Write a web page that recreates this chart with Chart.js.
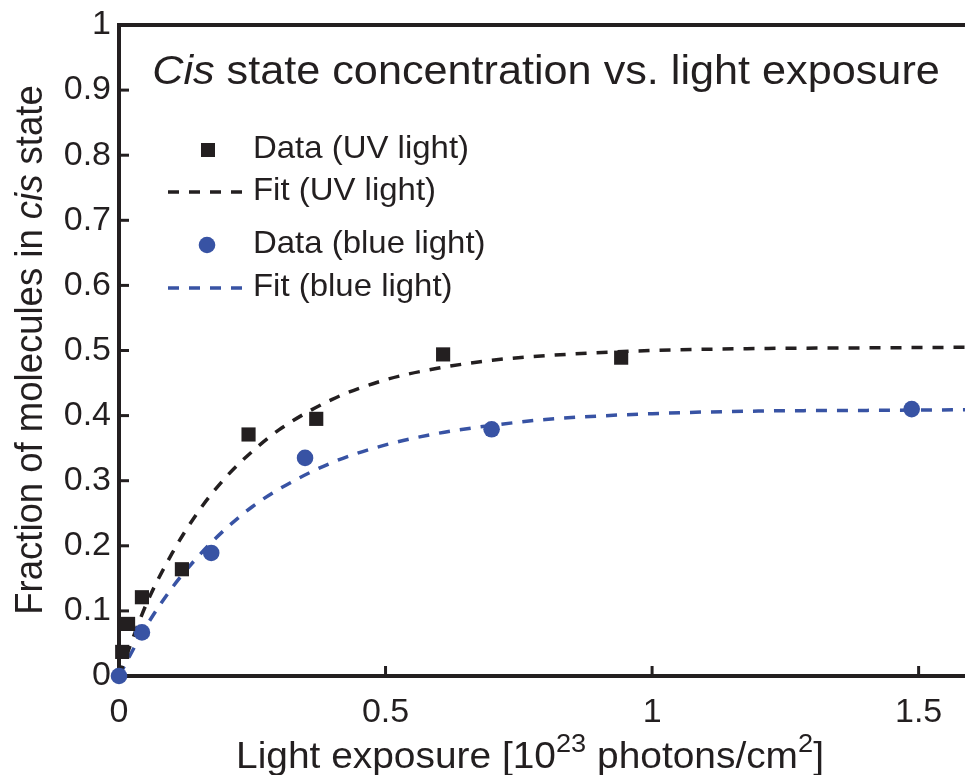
<!DOCTYPE html>
<html>
<head>
<meta charset="utf-8">
<script src="https://cdn.jsdelivr.net/npm/chart.js@4.4.1/dist/chart.umd.min.js"></script>
<style>
  html, body { margin: 0; padding: 0; background: #fff; }
  #wrap { width: 965px; height: 775px; }
</style>
</head>
<body>
<div id="wrap"><canvas id="cisChart" width="965" height="775"></canvas></div>
<script>
// measured fraction in cis state
const uvX = [0.006, 0.017, 0.043, 0.118, 0.243, 0.370, 0.608, 0.942];
const uvY = [0.037, 0.080, 0.121, 0.164, 0.371, 0.395, 0.494, 0.489];
const blueX = [0, 0.043, 0.173, 0.349, 0.699, 1.487];
const blueY = [0, 0.067, 0.189, 0.335, 0.379, 0.410];

// fitted curves, read along their length
const fitX = [0, 0.05, 0.1, 0.15, 0.2, 0.25, 0.3, 0.4, 0.5, 0.6, 0.7, 0.8, 1.0, 1.2, 1.4, 1.6];
const uvFitY = [0, 0.108, 0.189, 0.254, 0.305, 0.345, 0.378, 0.425, 0.455, 0.473, 0.485, 0.492, 0.500, 0.503, 0.504, 0.505];
const blueFitY = [0, 0.075, 0.136, 0.185, 0.226, 0.260, 0.287, 0.328, 0.355, 0.373, 0.385, 0.394, 0.403, 0.407, 0.408, 0.409];

const xTicks = [0, 0.5, 1, 1.5];
const xTickLabels = ['0', '0.5', '1', '1.5'];
const yTicks = [0, 0.1, 0.2, 0.3, 0.4, 0.5, 0.6, 0.7, 0.8, 0.9, 1];
const yTickLabels = ['0', '0.1', '0.2', '0.3', '0.4', '0.5', '0.6', '0.7', '0.8', '0.9', '1'];

const INK = '#231f20';
const BLUE = '#3853a4';
const FONT = '"Liberation Sans", Arial, Helvetica, sans-serif';
const STRETCH = 1.08; // text is set a little wide

const toPoints = (xs, ys) => xs.map((x, i) => ({ x: x, y: ys[i] }));

// draw a line of text made of plain / italic / superscript pieces
function drawRuns(ctx, runs, x, y, size, align) {
  const fontFor = r => (r.italic ? 'italic ' : '') + (r.sup ? size * 0.7 : size) + 'px ' + FONT;
  let total = 0;
  runs.forEach(r => { ctx.font = fontFor(r); total += ctx.measureText(r.text).width; });
  let cx = align === 'center' ? -total / 2 : 0;
  ctx.save();
  ctx.translate(x, y);
  ctx.scale(STRETCH, 1);
  ctx.textAlign = 'left';
  ctx.textBaseline = 'alphabetic';
  runs.forEach(r => {
    ctx.font = fontFor(r);
    ctx.fillText(r.text, cx, r.sup ? -size * 0.45 : 0);
    cx += ctx.measureText(r.text).width;
  });
  ctx.restore();
}

const decor = {
  id: 'decor',
  beforeDatasetsDraw(chart) {
    const { ctx, chartArea: a, scales } = chart;
    ctx.save();
    ctx.strokeStyle = INK;
    ctx.lineWidth = 4;
    // top frame line
    ctx.beginPath();
    ctx.moveTo(a.left - 2, a.top);
    ctx.lineTo(a.right, a.top);
    ctx.stroke();
    // inward tick marks
    ctx.lineWidth = 3;
    xTicks.forEach(v => {
      const px = scales.x.getPixelForValue(v);
      ctx.beginPath();
      ctx.moveTo(px, a.bottom);
      ctx.lineTo(px, a.bottom - 10);
      ctx.stroke();
    });
    yTicks.forEach(v => {
      const py = scales.y.getPixelForValue(v);
      ctx.beginPath();
      ctx.moveTo(a.left, py);
      ctx.lineTo(a.left + 10, py);
      ctx.stroke();
    });
    ctx.restore();
  },
  afterDraw(chart) {
    const { ctx } = chart;
    ctx.save();
    ctx.fillStyle = INK;

    // title
    drawRuns(ctx, [
      { text: 'Cis', italic: true },
      { text: ' state concentration vs. light exposure' }
    ], 546, 84, 40, 'center');

    // x axis title
    drawRuns(ctx, [
      { text: 'Light exposure [10' },
      { text: '23', sup: true },
      { text: ' photons/cm' },
      { text: '2', sup: true },
      { text: ']' }
    ], 530, 768, 36, 'center');

    // y axis title
    ctx.save();
    ctx.translate(42, 350);
    ctx.scale(STRETCH, 1);
    ctx.rotate(-Math.PI / 2);
    ctx.scale(1 / STRETCH, 1);
    drawRuns(ctx, [
      { text: 'Fraction of molecules in ' },
      { text: 'cis', italic: true },
      { text: ' state' }
    ], 0, 0, 36.5, 'center');
    ctx.restore();

    // legend
    const items = [
      { label: 'Data (UV light)', kind: 'square', color: INK, y: 150 },
      { label: 'Fit (UV light)', kind: 'line', color: INK, y: 192 },
      { label: 'Data (blue light)', kind: 'circle', color: BLUE, y: 245 },
      { label: 'Fit (blue light)', kind: 'line', color: BLUE, y: 288 }
    ];
    items.forEach(it => {
      ctx.fillStyle = it.color;
      ctx.strokeStyle = it.color;
      if (it.kind === 'square') {
        ctx.fillRect(201, it.y - 7, 14, 14);
      } else if (it.kind === 'circle') {
        ctx.beginPath();
        ctx.arc(207, it.y, 8.3, 0, Math.PI * 2);
        ctx.fill();
      } else {
        ctx.lineWidth = 3.5;
        ctx.setLineDash([11, 10]);
        ctx.beginPath();
        ctx.moveTo(168, it.y);
        ctx.lineTo(246, it.y);
        ctx.stroke();
        ctx.setLineDash([]);
      }
      ctx.save();
      ctx.translate(253, it.y);
      ctx.scale(STRETCH, 1);
      ctx.fillStyle = INK;
      ctx.font = '30.5px ' + FONT;
      ctx.textAlign = 'left';
      ctx.textBaseline = 'middle';
      ctx.fillText(it.label, 0, 0);
      ctx.restore();
    });
    ctx.restore();
  }
};

new Chart(document.getElementById('cisChart'), {
  type: 'scatter',
  plugins: [decor],
  data: {
    datasets: [
      {
        label: 'Fit (UV light)',
        data: toPoints(fitX, uvFitY),
        showLine: true,
        borderColor: INK,
        borderWidth: 3.5,
        borderDash: [11, 10],
        pointRadius: 0,
        cubicInterpolationMode: 'monotone',
        clip: false,
        order: 2
      },
      {
        label: 'Fit (blue light)',
        data: toPoints(fitX, blueFitY),
        showLine: true,
        borderColor: BLUE,
        borderWidth: 3.5,
        borderDash: [11, 10],
        pointRadius: 0,
        cubicInterpolationMode: 'monotone',
        clip: false,
        order: 2
      },
      {
        label: 'Data (UV light)',
        data: toPoints(uvX, uvY),
        pointStyle: 'rect',
        pointRadius: 10,
        backgroundColor: INK,
        borderWidth: 0,
        clip: false,
        order: 1
      },
      {
        label: 'Data (blue light)',
        data: toPoints(blueX, blueY),
        pointStyle: 'circle',
        pointRadius: 8.3,
        backgroundColor: BLUE,
        borderWidth: 0,
        clip: false,
        order: 1
      }
    ]
  },
  options: {
    responsive: false,
    animation: false,
    devicePixelRatio: 1,
    layout: { autoPadding: false, padding: { top: 25, right: 0, left: 0, bottom: 0 } },
    plugins: { legend: { display: false }, tooltip: { enabled: false } },
    scales: {
      x: {
        type: 'linear',
        min: 0,
        max: 1.587,
        afterBuildTicks: s => { s.ticks = xTicks.map(v => ({ value: v })); },
        afterFit: s => { s.height = 99; s.paddingLeft = 0; s.paddingRight = 0; },
        grid: { display: false, drawTicks: false },
        border: { display: true, color: INK, width: 4 },
        ticks: {
          autoSkip: false,
          maxRotation: 0,
          padding: 16,
          color: INK,
          font: { family: FONT, size: 34 },
          callback: (v, i) => xTickLabels[i]
        }
      },
      y: {
        type: 'linear',
        min: 0,
        max: 1,
        afterBuildTicks: s => { s.ticks = yTicks.map(v => ({ value: v })); },
        afterFit: s => { s.width = 119; s.paddingTop = 0; s.paddingBottom = 0; },
        grid: { display: false, drawTicks: false },
        border: { display: true, color: INK, width: 4 },
        ticks: {
          autoSkip: false,
          padding: 8,
          color: INK,
          font: { family: FONT, size: 34 },
          callback: (v, i) => yTickLabels[i]
        }
      }
    }
  }
});
</script>
</body>
</html>
